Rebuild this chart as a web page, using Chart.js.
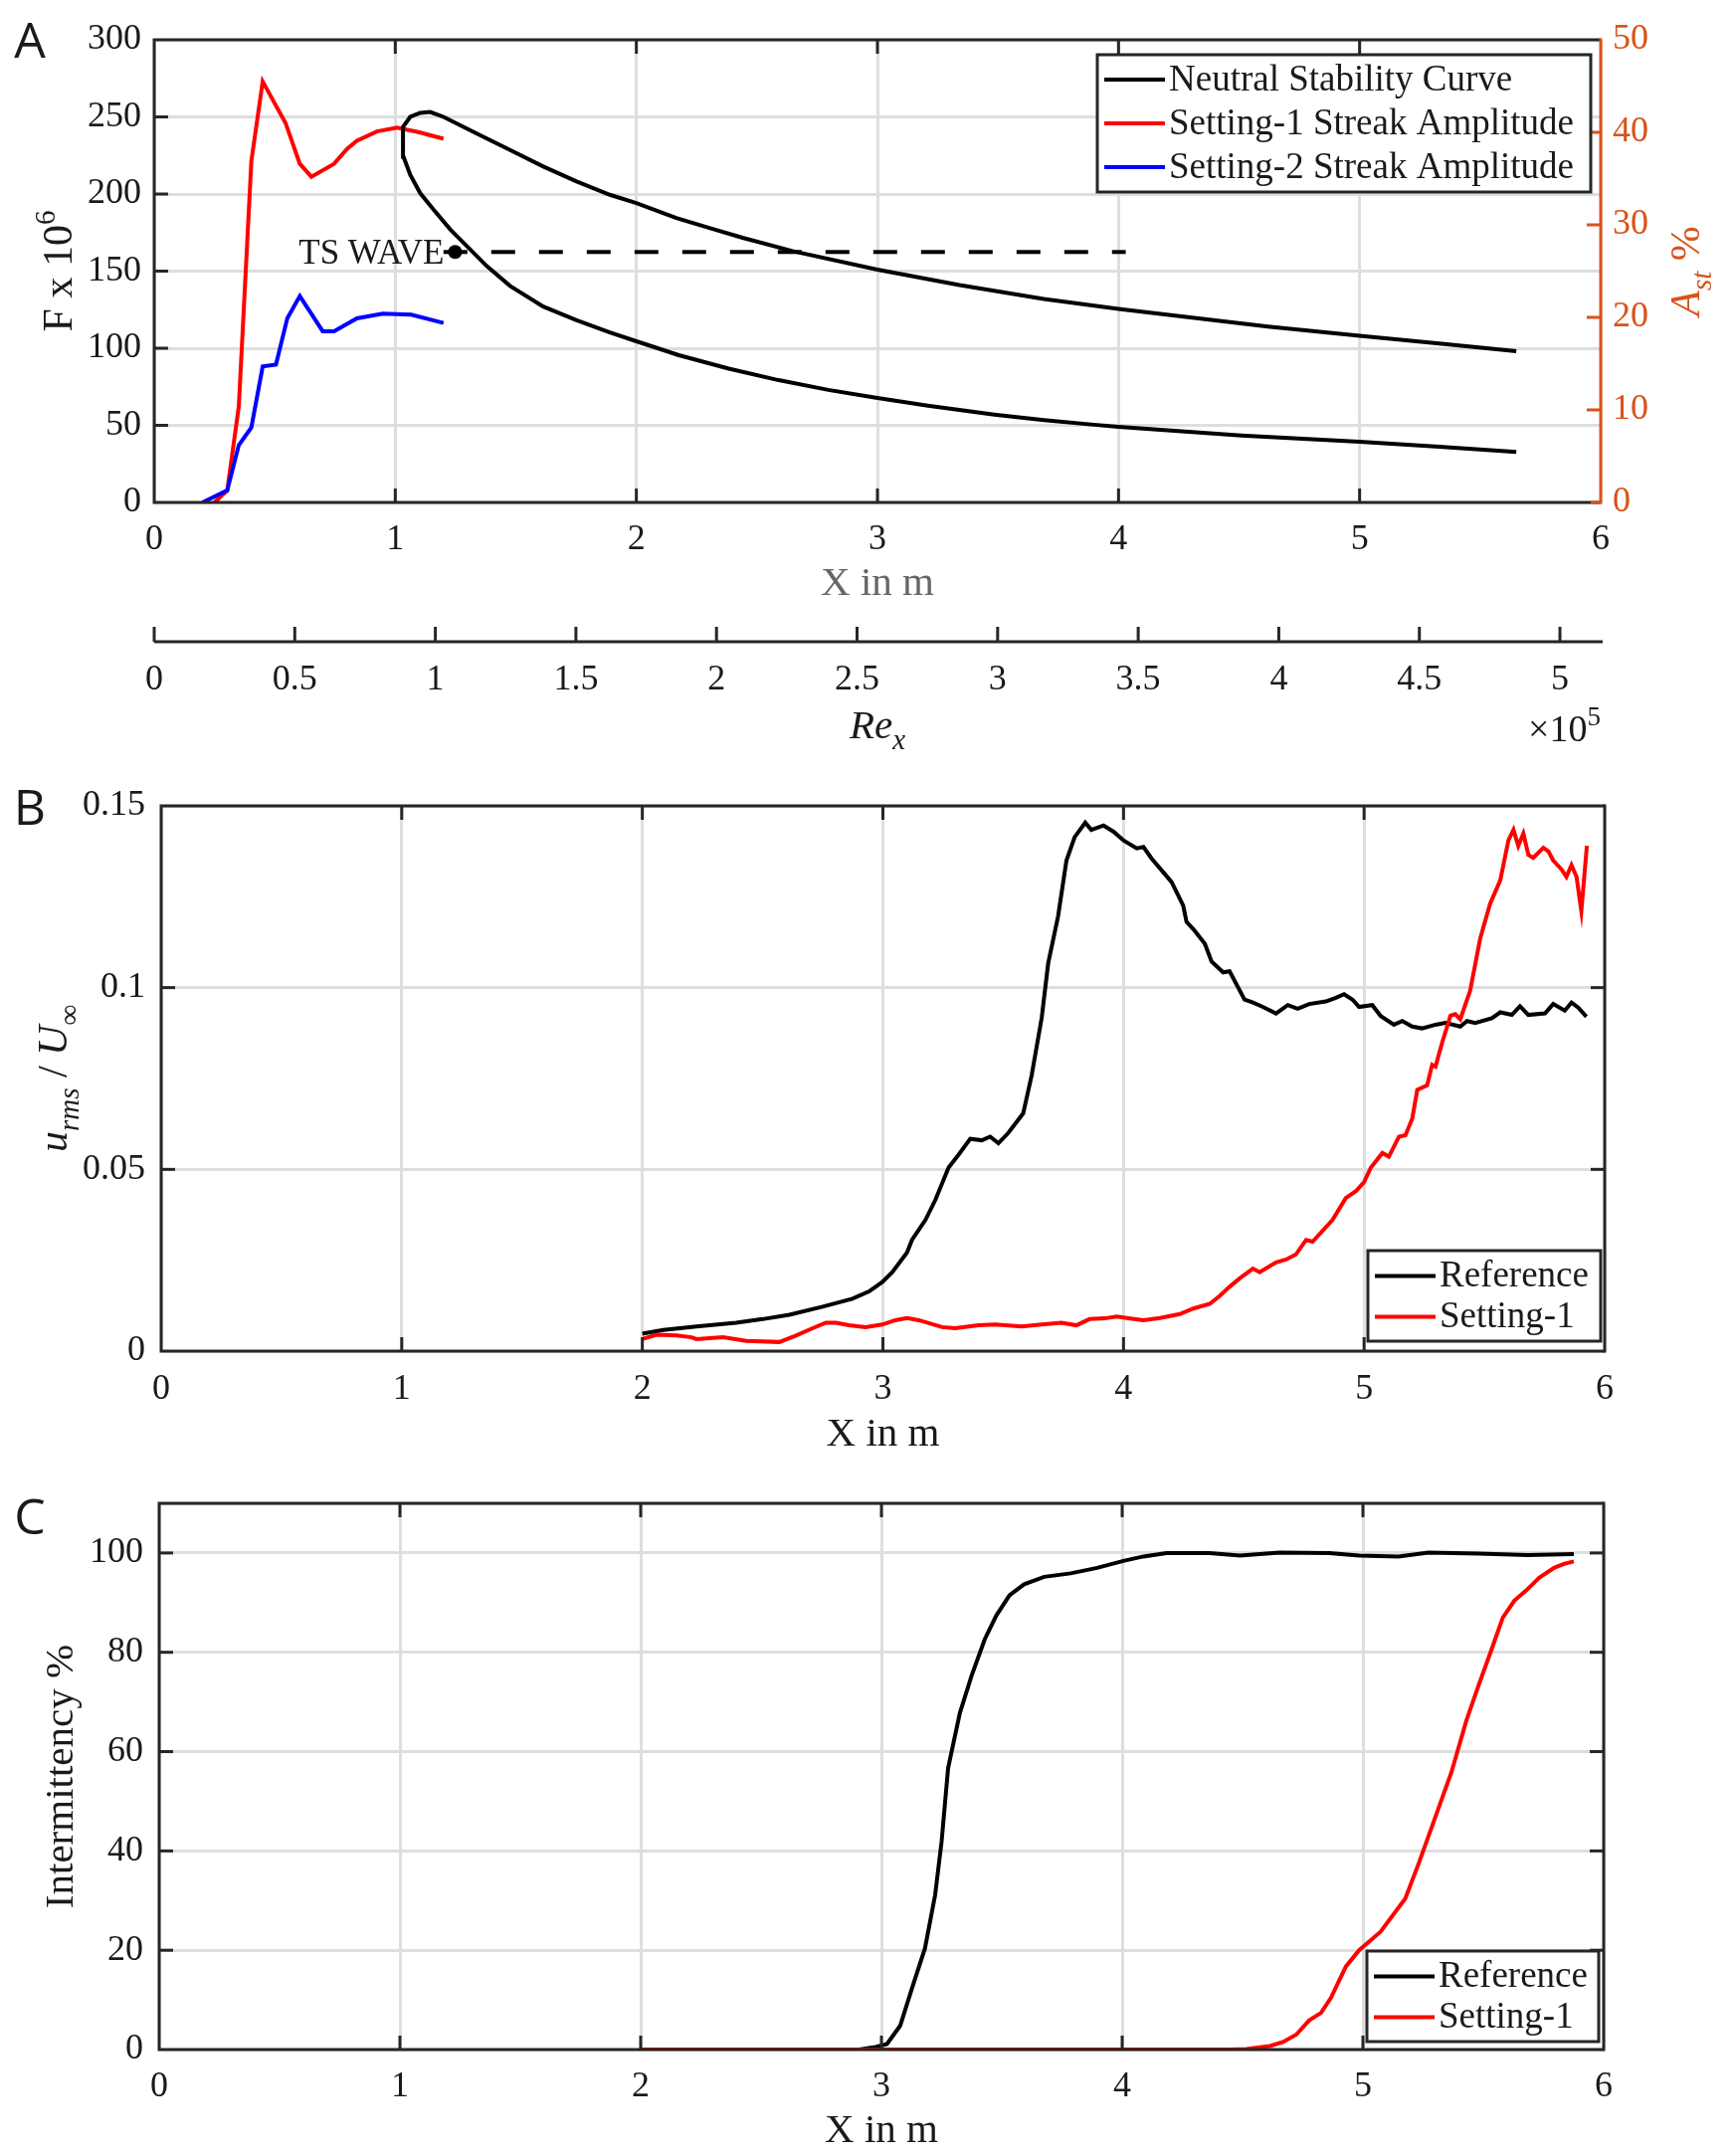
<!DOCTYPE html>
<html>
<head>
<meta charset="utf-8">
<script src="https://cdn.jsdelivr.net/npm/chart.js@4.4.1/dist/chart.umd.min.js"></script>
<style>
  html, body { margin: 0; padding: 0; background: #fff; }
  #wrap { position: relative; width: 1743px; height: 2167px; }
  canvas { position: absolute; left: 0; }
</style>
</head>
<body>
<div id="wrap">
  <canvas id="chartA" width="1743" height="760" style="top:0px"></canvas>
  <canvas id="chartB" width="1743" height="710" style="top:760px"></canvas>
  <canvas id="chartC" width="1743" height="697" style="top:1470px"></canvas>
</div>
<script>
// ---- panel A : neutral stability curve (F x 1e6) and streak amplitude (A_st %)
// one loop: lower branch from the far end to the nose, then the upper branch back out
const nscX = [5.65, 5.33, 5.0, 4.51, 4.0, 3.898, 3.691, 3.485, 3.209, 3.0, 2.796, 2.59, 2.383, 2.176, 2.0, 1.89, 1.752,
              1.614, 1.476, 1.379, 1.297, 1.228, 1.159, 1.103, 1.062, 1.034, 1.032, 1.032, 1.062, 1.103, 1.145, 1.2,
              1.338, 1.476, 1.614, 1.752, 1.89, 2.0, 2.166, 2.303, 2.441, 2.648, 3.0, 3.34, 3.69, 4.0, 4.27, 4.62,
              5.0, 5.33, 5.65];
const nscF = [32.7, 36.2, 39.3, 43.4, 49.0, 50.4, 53.4, 57.0, 62.7, 67.7, 73.0, 79.3, 86.8, 95.5, 104.5, 110.3, 118.2,
              127, 140.4, 153.3, 166.2, 177, 189.8, 200.6, 212.4, 224.2, 227.4, 243.5, 250, 252.6, 253.2, 250,
              239.2, 228.5, 217.8, 208.1, 199.5, 194.1, 184.4, 178, 171.6, 163, 151, 141, 132, 125.5, 120.5, 114,
              108, 103, 98];

const set1X_A = [0.25, 0.303, 0.351, 0.403, 0.45, 0.545, 0.604, 0.652, 0.746, 0.80, 0.841, 0.924, 1.007, 1.10, 1.2];
const set1Ast = [0, 1.3, 10.4, 36.9, 45.5, 41.0, 36.6, 35.2, 36.6, 38.2, 39.1, 40.1, 40.5, 40.0, 39.3];

const set2X_A = [0.20, 0.303, 0.351, 0.403, 0.45, 0.505, 0.552, 0.604, 0.699, 0.746, 0.841, 0.948, 1.066, 1.2];
const set2Ast = [0, 1.3, 6.2, 8.1, 14.7, 14.9, 19.9, 22.3, 18.5, 18.5, 19.9, 20.4, 20.3, 19.4];

const tsLineX = [1.2, 4.03];
const tsLineF = [162.4, 162.4];
const tsDotX = [1.248];
const tsDotF = [162.4];

const xRangeM = [0, 6];       // X in m axis range
const fRange = [0, 300];      // F x 10^6 axis range
const astRange = [0, 50];     // A_st % axis range
const reMax = 5.145;          // Re_x (x 10^5) at X = 6 m

// ---- panel B : u_rms / U_inf
const refX_B = [2.0, 2.087, 2.225, 2.39, 2.5, 2.611, 2.749, 2.873, 2.942, 2.997, 3.039, 3.10, 3.121, 3.177, 3.218,
                3.273, 3.314, 3.363, 3.411, 3.446, 3.48, 3.521, 3.583, 3.618, 3.66, 3.687, 3.728, 3.763, 3.797, 3.841,
                3.866, 3.917, 3.959, 4.0, 4.055, 4.083, 4.117, 4.166, 4.2, 4.248, 4.262, 4.29, 4.338, 4.366, 4.414,
                4.441, 4.503, 4.538, 4.579, 4.634, 4.683, 4.724, 4.772, 4.841, 4.883, 4.917, 4.952, 4.979, 5.034, 5.069,
                5.124, 5.159, 5.2, 5.241, 5.297, 5.338, 5.40, 5.428, 5.462, 5.531, 5.566, 5.614, 5.648, 5.683, 5.752,
                5.786, 5.834, 5.862, 5.89, 5.924];
const refU_B = [0.0048, 0.0058, 0.0068, 0.0078, 0.0088, 0.0100, 0.0122, 0.0144, 0.0164, 0.0190, 0.0217, 0.0271, 0.0306, 0.0361, 0.0416,
                0.0505, 0.0540, 0.0584, 0.0580, 0.0590, 0.0572, 0.0600, 0.0654, 0.0758, 0.0917, 0.1067, 0.1196, 0.1350, 0.1414, 0.1454,
                0.1434, 0.1446, 0.1429, 0.1405, 0.1383, 0.1387, 0.1355, 0.1317, 0.1290, 0.1226, 0.1181, 0.1161, 0.1121, 0.1072, 0.1042,
                0.1045, 0.0967, 0.0959, 0.0947, 0.0929, 0.0952, 0.0942, 0.0955, 0.0962, 0.0972, 0.0982, 0.0967, 0.0947, 0.0952, 0.0922,
                0.0898, 0.0908, 0.0893, 0.0888, 0.0898, 0.0903, 0.0893, 0.0908, 0.0903, 0.0916, 0.0932, 0.0925, 0.0949, 0.0925, 0.0929,
                0.0955, 0.0937, 0.0959, 0.0945, 0.0920];

const setX_B = [2.0, 2.06, 2.142, 2.204, 2.225, 2.335, 2.432, 2.57, 2.639, 2.708, 2.763, 2.804, 2.859, 2.928, 2.997,
                3.052, 3.10, 3.149, 3.246, 3.30, 3.397, 3.466, 3.577, 3.659, 3.742, 3.804, 3.859, 3.921, 3.972, 4.014,
                4.083, 4.152, 4.234, 4.29, 4.359, 4.40, 4.441, 4.483, 4.538, 4.566, 4.634, 4.676, 4.717, 4.759, 4.786,
                4.869, 4.924, 4.966, 5.0, 5.028, 5.076, 5.103, 5.145, 5.172, 5.2, 5.221, 5.262, 5.283, 5.297, 5.324,
                5.359, 5.379, 5.40, 5.441, 5.483, 5.524, 5.566, 5.60, 5.621, 5.641, 5.662, 5.683, 5.703, 5.745, 5.766,
                5.786, 5.821, 5.841, 5.862, 5.883, 5.903, 5.926];
const setU_B = [0.0033, 0.0045, 0.0043, 0.0038, 0.0033, 0.0038, 0.0028, 0.0025, 0.0043, 0.0063, 0.0078, 0.0078, 0.0071, 0.0066, 0.0073,
                0.0085, 0.0091, 0.0085, 0.0066, 0.0063, 0.0071, 0.0073, 0.0068, 0.0073, 0.0078, 0.0071, 0.0088, 0.0090, 0.0095, 0.0091,
                0.0085, 0.0091, 0.0102, 0.0117, 0.0130, 0.0152, 0.0177, 0.0200, 0.0227, 0.0217, 0.0244, 0.0252, 0.0266, 0.0306, 0.0301,
                0.0361, 0.0421, 0.0440, 0.0465, 0.0505, 0.0545, 0.0535, 0.0590, 0.0594, 0.0639, 0.0719, 0.0731, 0.0788, 0.0783, 0.0848,
                0.0923, 0.0927, 0.0913, 0.0992, 0.1136, 0.1231, 0.1295, 0.1405, 0.1434, 0.1390, 0.1424, 0.1365, 0.1357, 0.1385, 0.1375,
                0.1350, 0.1325, 0.1305, 0.1337, 0.1305, 0.1211, 0.1390];

// ---- panel C : intermittency %
const refX_C = [2.0, 2.907, 2.975, 3.023, 3.078, 3.126, 3.181, 3.223, 3.25, 3.277, 3.326, 3.374, 3.429, 3.477, 3.532, 3.593,
                3.676, 3.786, 3.896, 4.005, 4.088, 4.184, 4.363, 4.489, 4.654, 4.86, 4.984, 5.148, 5.272, 5.48, 5.684, 5.876];
const refI_C = [0, 0, 0.5, 1.1, 4.8, 12.2, 20.4, 31.1, 41.9, 56.7, 67.8, 75.2, 82.6, 87.4, 91.5, 93.7,
                95.2, 95.9, 97.0, 98.4, 99.3, 100, 100, 99.5, 100.1, 100, 99.5, 99.3, 100.1, 99.9, 99.6, 99.8];

const setX_C = [2.0, 4.45, 4.516, 4.613, 4.668, 4.723, 4.777, 4.826, 4.867, 4.929, 4.984, 5.073, 5.176, 5.231, 5.286,
                5.368, 5.43, 5.478, 5.533, 5.581, 5.629, 5.677, 5.732, 5.794, 5.835, 5.876];
const setI_C = [0, 0, 0.1, 0.7, 1.5, 3.0, 5.9, 7.4, 10.4, 16.7, 20.0, 23.7, 30.4, 37.4, 44.8,
                55.9, 66.3, 73.0, 80.4, 87.0, 90.4, 92.4, 95.0, 97.0, 97.8, 98.3];

// ---- styling
const serif = "'Liberation Serif', 'Times New Roman', serif";
const sans = "'Open Sans', 'DejaVu Sans', sans-serif";
const ink = '#1a1a1a';
const frameColor = '#262626';
const orange = '#D95319';
const gridColor = '#dedede';
const tickLen = 14;

Chart.defaults.font.family = serif;
Chart.defaults.color = ink;

const zip = (xs, ys) => xs.map((x, i) => ({ x: x, y: ys[i] }));
const trimNum = v => String(+Number(v).toFixed(3));

function seg(ctx, x1, y1, x2, y2) {
  ctx.beginPath(); ctx.moveTo(x1, y1); ctx.lineTo(x2, y2); ctx.stroke();
}

// text with italic / sub / superscript pieces
function drawRich(ctx, segs, x, y, o) {
  const size = o.size;
  const fam = o.family || serif;
  const fontFor = s => (s.it ? 'italic ' : '') + ((s.sub || s.sup) ? Math.round(size * 0.7) : size) + 'px ' + fam;
  let w = 0;
  const ws = segs.map(s => { ctx.font = fontFor(s); const m = ctx.measureText(s.t).width; w += m; return m; });
  ctx.save();
  ctx.translate(x, y);
  if (o.rot) ctx.rotate(o.rot);
  ctx.fillStyle = o.color || ink;
  ctx.textBaseline = 'alphabetic';
  let cx = o.align === 'right' ? -w : (o.align === 'left' ? 0 : -w / 2);
  segs.forEach((s, i) => {
    ctx.font = fontFor(s);
    const dy = s.sub ? size * 0.28 : (s.sup ? -size * 0.42 : 0);
    ctx.fillText(s.t, cx, size * 0.34 + dy);
    cx += ws[i];
  });
  ctx.restore();
}

function richText(items) {
  return {
    id: 'richText',
    afterDraw(chart) {
      items.forEach(it => {
        const p = it.at(chart);
        drawRich(chart.ctx, it.segs, p.x, p.y, it);
      });
    }
  };
}

// matlab-like box with inward ticks
function boxAxes(cfg) {
  return {
    id: 'boxAxes',
    afterDatasetsDraw(chart) {
      const ctx = chart.ctx, a = chart.chartArea;
      ctx.save();
      ctx.lineWidth = 3;
      ctx.lineCap = 'butt';
      ctx.strokeStyle = frameColor;
      const xs = chart.scales.x;
      xs.ticks.forEach(t => {
        const px = xs.getPixelForValue(t.value);
        if (px <= a.left + 2 || px >= a.right - 2) return;
        seg(ctx, px, a.bottom, px, a.bottom - tickLen);
        seg(ctx, px, a.top, px, a.top + tickLen);
      });
      const ys = chart.scales.y;
      ys.ticks.forEach(t => {
        const py = ys.getPixelForValue(t.value);
        if (py <= a.top + 2 || py >= a.bottom - 2) return;
        seg(ctx, a.left, py, a.left + tickLen, py);
        if (cfg.mirrorY) seg(ctx, a.right, py, a.right - tickLen, py);
      });
      ctx.beginPath();
      ctx.moveTo(a.right, a.top); ctx.lineTo(a.left, a.top);
      ctx.lineTo(a.left, a.bottom); ctx.lineTo(a.right, a.bottom);
      ctx.stroke();
      if (chart.scales.xr) {
        const s = chart.scales.xr;
        seg(ctx, s.left, s.top, s.right + 2, s.top);
        s.ticks.forEach(t => {
          const px = s.getPixelForValue(t.value);
          seg(ctx, px, s.top, px, s.top - 15);
        });
      }
      ctx.strokeStyle = cfg.rightColor || frameColor;
      seg(ctx, a.right, a.top - 1.5, a.right, a.bottom + 1.5);
      if (chart.scales.y2) {
        const s = chart.scales.y2;
        s.ticks.forEach(t => {
          const py = s.getPixelForValue(t.value);
          if (py <= a.top + 2 || py >= a.bottom - 2) return;
          seg(ctx, a.right, py, a.right - tickLen, py);
        });
        seg(ctx, a.right, a.bottom, a.right - 10, a.bottom);
      }
      ctx.restore();
    }
  };
}

// boxed legend inside the axes
function boxLegend(cfg) {
  return {
    id: 'boxLegend',
    afterDraw(chart) {
      const ctx = chart.ctx, a = chart.chartArea;
      const x2 = a.right - cfg.dx, x1 = x2 - cfg.w;
      const y1 = cfg.corner === 'top' ? a.top + cfg.dy : a.bottom - cfg.dy - cfg.h;
      ctx.save();
      ctx.fillStyle = '#fff';
      ctx.fillRect(x1, y1, cfg.w, cfg.h);
      ctx.lineWidth = 3;
      ctx.strokeStyle = frameColor;
      ctx.strokeRect(x1, y1, cfg.w, cfg.h);
      ctx.font = cfg.size + 'px ' + serif;
      ctx.textBaseline = 'middle';
      cfg.items.forEach((di, i) => {
        const ds = chart.data.datasets[di];
        const cy = y1 + cfg.first + i * cfg.row;
        ctx.strokeStyle = ds.borderColor;
        ctx.lineWidth = 4;
        seg(ctx, x1 + 7, cy, x1 + 68, cy);
        ctx.fillStyle = ink;
        ctx.fillText(ds.label, x1 + 72, cy + 1);
      });
      ctx.restore();
    }
  };
}

const tickFont = { family: serif, size: 36 };
const titleFont = { family: serif, size: 41 };

function xScale(h, pad, titleColor, titlePadBottom) {
  return {
    type: 'linear', position: 'bottom', min: xRangeM[0], max: xRangeM[1],
    ticks: { stepSize: 1, font: tickFont, color: ink, padding: pad, maxRotation: 0, autoSkip: false },
    grid: { color: gridColor, lineWidth: 3, drawTicks: false },
    border: { display: false },
    title: { display: true, text: 'X in m', color: titleColor, font: titleFont, padding: { top: 0, bottom: titlePadBottom } },
    afterFit: s => { s.height = h; }
  };
}

const baseOpts = {
  responsive: false,
  animation: false,
  devicePixelRatio: 1,
  elements: { point: { radius: 0 }, line: { borderWidth: 4, tension: 0 } }
};

// ===================== Panel A
new Chart(document.getElementById('chartA'), {
  type: 'line',
  data: {
    datasets: [
      { label: 'Neutral Stability Curve', data: zip(nscX, nscF), borderColor: '#000000', yAxisID: 'y', order: 0 },
      { label: 'Setting-1 Streak Amplitude', data: zip(set1X_A, set1Ast), borderColor: '#ff0000', yAxisID: 'y2', order: 3 },
      { label: 'Setting-2 Streak Amplitude', data: zip(set2X_A, set2Ast), borderColor: '#0000ff', yAxisID: 'y2', order: 2 },
      { label: 'TS WAVE', data: zip(tsLineX, tsLineF), borderColor: '#000000', borderDash: [24, 24], yAxisID: 'y', order: 1 },
      { label: 'TS point', data: zip(tsDotX, tsDotF), showLine: false, pointRadius: 7,
        pointBackgroundColor: '#000', pointBorderWidth: 0, yAxisID: 'y', order: 0 }
    ]
  },
  options: Object.assign({}, baseOpts, {
    layout: { padding: { top: 40 } },
    plugins: { legend: { display: false }, tooltip: { enabled: false } },
    scales: {
      x: xScale(140, 16, '#666666', 33),
      xr: {
        type: 'linear', position: 'bottom', min: 0, max: reMax,
        ticks: { stepSize: 0.5, includeBounds: false, font: tickFont, color: ink, padding: 17, maxRotation: 0, autoSkip: false,
                 callback: v => trimNum(v) },
        grid: { display: false, drawTicks: false },
        border: { display: false },
        afterFit: s => { s.height = 115; }
      },
      y: {
        position: 'left', min: fRange[0], max: fRange[1],
        ticks: { stepSize: 50, font: tickFont, color: ink, padding: 13 },
        grid: { color: gridColor, lineWidth: 3, drawTicks: false },
        border: { display: false },
        afterFit: s => { s.width = 155; }
      },
      y2: {
        position: 'right', min: astRange[0], max: astRange[1],
        ticks: { stepSize: 10, font: tickFont, color: orange, padding: 12 },
        grid: { drawOnChartArea: false, drawTicks: false },
        border: { display: false },
        afterFit: s => { s.width = 134; }
      }
    }
  }),
  plugins: [
    boxAxes({ mirrorY: false, rightColor: orange }),
    boxLegend({ corner: 'top', dx: 10, dy: 15, w: 496, h: 138, first: 25, row: 44, size: 37, items: [0, 1, 2] }),
    richText([
      { segs: [{ t: 'A' }], size: 50, family: sans, at: () => ({ x: 30, y: 41 }) },
      { segs: [{ t: 'F x 10' }, { t: '6', sup: true }], size: 42, rot: -Math.PI / 2,
        at: c => ({ x: 58, y: (c.chartArea.top + c.chartArea.bottom) / 2 }) },
      { segs: [{ t: 'A', it: true }, { t: 'st', it: true, sub: true }, { t: ' %' }], size: 42, color: orange, rot: -Math.PI / 2,
        at: c => ({ x: 1694, y: (c.chartArea.top + c.chartArea.bottom) / 2 }) },
      { segs: [{ t: 'Re', it: true }, { t: 'x', it: true, sub: true }], size: 41,
        at: c => ({ x: (c.chartArea.left + c.chartArea.right) / 2, y: 728 }) },
      { segs: [{ t: '\u00d710' }, { t: '5', sup: true }], size: 38, align: 'right',
        at: c => ({ x: c.chartArea.right, y: 732 }) },
      { segs: [{ t: 'TS WAVE' }], size: 35, align: 'right',
        at: c => ({ x: c.scales.x.getPixelForValue(tsDotX[0]) - 11, y: c.scales.y.getPixelForValue(tsDotF[0]) }) }
    ])
  ]
});

// ===================== Panel B
new Chart(document.getElementById('chartB'), {
  type: 'line',
  data: {
    datasets: [
      { label: 'Reference', data: zip(refX_B, refU_B), borderColor: '#000000', order: 1 },
      { label: 'Setting-1', data: zip(setX_B, setU_B), borderColor: '#ff0000', order: 0 }
    ]
  },
  options: Object.assign({}, baseOpts, {
    layout: { padding: { top: 50, right: 130 } },
    plugins: { legend: { display: false }, tooltip: { enabled: false } },
    scales: {
      x: xScale(112, 17, ink, 3),
      y: {
        position: 'left', min: 0, max: 0.15,
        ticks: { stepSize: 0.05, font: tickFont, color: ink, padding: 16, callback: v => trimNum(v) },
        grid: { color: gridColor, lineWidth: 3, drawTicks: false },
        border: { display: false },
        afterFit: s => { s.width = 162; }
      }
    }
  }),
  plugins: [
    boxAxes({ mirrorY: true }),
    boxLegend({ corner: 'bottom', dx: 4, dy: 10, w: 234, h: 91, first: 25.5, row: 41, size: 37, items: [0, 1] }),
    richText([
      { segs: [{ t: 'B' }], size: 50, family: sans, at: () => ({ x: 30, y: 52 }) },
      { segs: [{ t: 'u', it: true }, { t: 'rms', it: true, sub: true }, { t: ' / ' }, { t: 'U', it: true }, { t: '\u221e', sub: true }],
        size: 42, rot: -Math.PI / 2,
        at: c => ({ x: 53, y: (c.chartArea.top + c.chartArea.bottom) / 2 }) }
    ])
  ]
});

// ===================== Panel C
new Chart(document.getElementById('chartC'), {
  type: 'line',
  data: {
    datasets: [
      { label: 'Reference', data: zip(refX_C, refI_C), borderColor: '#000000', order: 1 },
      { label: 'Setting-1', data: zip(setX_C, setI_C), borderColor: '#ff0000', order: 0 }
    ]
  },
  options: Object.assign({}, baseOpts, {
    layout: { padding: { top: 41, right: 131 } },
    plugins: { legend: { display: false }, tooltip: { enabled: false } },
    scales: {
      x: xScale(107, 16, ink, 0),
      y: {
        position: 'left', min: 0, max: 110,
        ticks: { stepSize: 20, font: tickFont, color: ink, padding: 16, callback: v => (v > 100 ? '' : trimNum(v)) },
        grid: { color: gridColor, lineWidth: 3, drawTicks: false },
        border: { display: false },
        title: { display: true, text: 'Intermittency %', font: titleFont, color: ink, padding: { top: 38, bottom: 0 } },
        afterFit: s => { s.width = 160; }
      }
    }
  }),
  plugins: [
    boxAxes({ mirrorY: true }),
    boxLegend({ corner: 'bottom', dx: 5, dy: 8, w: 233, h: 91, first: 25.5, row: 41, size: 37, items: [0, 1] }),
    richText([
      { segs: [{ t: 'C' }], size: 50, family: sans, at: () => ({ x: 30, y: 55 }) }
    ])
  ]
});
</script>
</body>
</html>
